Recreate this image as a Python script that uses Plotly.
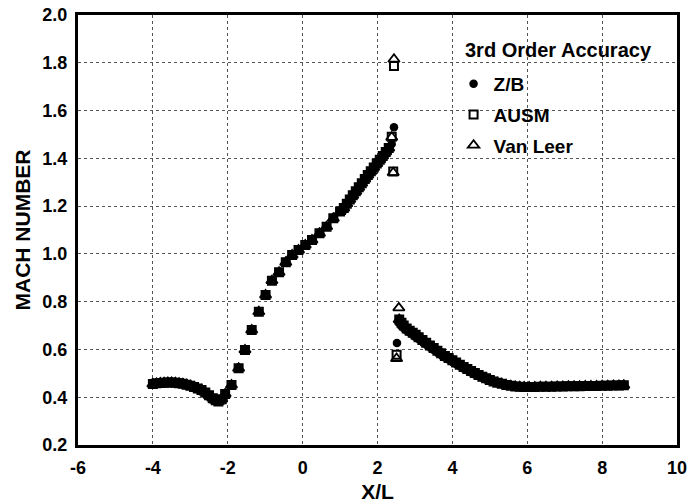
import plotly.graph_objects as go

# Shared solution values (all three schemes overlap away from the shock)
X_PRE = [-4.00, -3.90, -3.80, -3.70, -3.60, -3.50, -3.40, -3.30, -3.20, -3.10,
         -3.00, -2.90, -2.80, -2.70, -2.60, -2.50, -2.40, -2.32, -2.25, -2.16,
         -2.07, -1.90, -1.71, -1.54, -1.36, -1.17, -0.99, -0.82, -0.63, -0.45,
         -0.28, -0.11, 0.07, 0.25, 0.45, 0.64, 0.82, 1.00, 1.10, 1.18,
         1.26, 1.34, 1.42, 1.50, 1.58, 1.66, 1.74, 1.82, 1.90, 1.98,
         2.06, 2.14, 2.22, 2.30]
M_PRE = [0.455, 0.458, 0.460, 0.461, 0.462, 0.462, 0.461, 0.459, 0.456, 0.452,
         0.448, 0.443, 0.437, 0.430, 0.420, 0.408, 0.396, 0.387, 0.382, 0.392,
         0.414, 0.451, 0.521, 0.598, 0.681, 0.758, 0.828, 0.888, 0.923, 0.965,
         0.995, 1.016, 1.037, 1.058, 1.086, 1.114, 1.149, 1.177, 1.192, 1.210,
         1.228, 1.245, 1.262, 1.279, 1.296, 1.313, 1.330, 1.346, 1.362, 1.378,
         1.394, 1.410, 1.427, 1.443]

X_POST = [2.58, 2.64, 2.70, 2.78, 2.86, 2.94, 3.02, 3.10, 3.20, 3.30,
          3.40, 3.50, 3.60, 3.70, 3.80, 3.90, 4.00, 4.10, 4.20, 4.30,
          4.40, 4.50, 4.60, 4.70, 4.80, 4.90, 5.00, 5.10, 5.20, 5.32,
          5.44, 5.56, 5.68, 5.80, 5.92, 6.05, 6.20, 6.35, 6.50, 6.65,
          6.80, 6.95, 7.10, 7.25, 7.40, 7.55, 7.70, 7.85, 8.00, 8.15,
          8.30, 8.45, 8.58]
M_POST = [0.725, 0.712, 0.700, 0.688, 0.678, 0.670, 0.661, 0.651, 0.640, 0.628,
          0.617, 0.606, 0.595, 0.584, 0.573, 0.564, 0.555, 0.545, 0.536, 0.527,
          0.518, 0.510, 0.501, 0.493, 0.486, 0.479, 0.472, 0.466, 0.461, 0.456,
          0.451, 0.448, 0.445, 0.444, 0.443, 0.443, 0.443, 0.444, 0.444, 0.444,
          0.445, 0.445, 0.446, 0.446, 0.446, 0.447, 0.447, 0.447, 0.448, 0.448,
          0.449, 0.449, 0.450]

# Points in the shock region, per scheme
ZB_SHOCK_X = [2.38, 2.44, 2.52]
ZB_SHOCK_M = [1.460, 1.530, 0.627]
AUSM_SHOCK_X = [2.38, 2.42, 2.44, 2.51]
AUSM_SHOCK_M = [1.490, 1.345, 1.787, 0.578]
VL_SHOCK_X = [2.38, 2.42, 2.44, 2.51, 2.57]
VL_SHOCK_M = [1.488, 1.340, 1.815, 0.562, 0.774]

X_TICKS = [-6, -4, -2, 0, 2, 4, 6, 8, 10]
Y_TICKS = [0.2, 0.4, 0.6, 0.8, 1.0, 1.2, 1.4, 1.6, 1.8, 2.0]

LEGEND_TITLE = "3rd Order Accuracy"
FONT = "Liberation Sans"

fig = go.Figure()

fig.add_trace(go.Scatter(
    x=X_PRE + ZB_SHOCK_X + X_POST, y=M_PRE + ZB_SHOCK_M + M_POST,
    mode="markers", name="Z/B", legendgroup="a",
    marker=dict(symbol="circle", size=8.5, color="black", line=dict(width=0)),
))
fig.add_trace(go.Scatter(
    x=X_PRE + AUSM_SHOCK_X + X_POST, y=M_PRE + AUSM_SHOCK_M + M_POST,
    mode="markers", name="AUSM", legendgroup="b",
    marker=dict(symbol="square-open", size=8, color="black", line=dict(width=2)),
))
fig.add_trace(go.Scatter(
    x=X_PRE + VL_SHOCK_X + X_POST, y=M_PRE + VL_SHOCK_M + M_POST,
    mode="markers", name="Van Leer", legendgroup="c",
    marker=dict(symbol="triangle-up-open", size=10, color="black", line=dict(width=1.8)),
))

axis_common = dict(
    showline=True, linewidth=3, linecolor="black", mirror=True,
    showgrid=True, gridcolor="#555555", gridwidth=1, griddash="dot",
    zeroline=False, ticks="",
    tickfont=dict(family=FONT, size=18, color="black", weight="bold"),
)

fig.update_layout(
    width=693, height=504,
    margin=dict(l=78, r=16, t=15, b=59, autoexpand=False),
    paper_bgcolor="white", plot_bgcolor="white",
    font=dict(family=FONT, color="black"),
    xaxis=dict(
        range=[-6, 10], tickvals=X_TICKS, ticktext=[str(v) for v in X_TICKS],
        title=dict(text="X/L", standoff=8,
                   font=dict(family=FONT, size=21, color="black", weight="bold")),
        automargin=False, ticklabelstandoff=4, **axis_common,
    ),
    yaxis=dict(
        range=[0.2, 2.0], tickvals=Y_TICKS, ticktext=[f"{v:.1f}" for v in Y_TICKS],
        title=dict(text="MACH NUMBER", standoff=7,
                   font=dict(family=FONT, size=21, color="black", weight="bold")),
        automargin=False, ticklabelstandoff=4, **axis_common,
    ),
    legend=dict(
        x=0.627, y=0.884, xanchor="left", yanchor="top",
        bgcolor="rgba(0,0,0,0)", borderwidth=0,
        font=dict(family=FONT, size=19, color="black", weight="bold"),
        tracegroupgap=3, traceorder="grouped",
    ),
    annotations=[dict(
        text=LEGEND_TITLE, xref="paper", yref="paper",
        x=0.643, y=0.9186, xanchor="left", yanchor="middle", showarrow=False,
        font=dict(family=FONT, size=20, color="black", weight="bold"),
    )],
    showlegend=True,
)

fig.write_html("out.html")
